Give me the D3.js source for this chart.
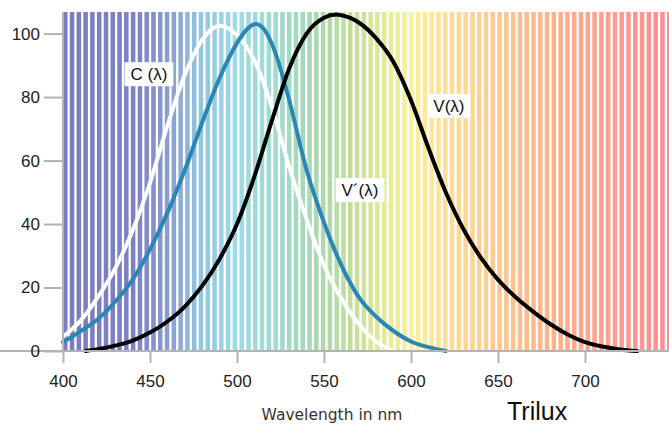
<!DOCTYPE html>
<html lang='en'>
<head>
<meta charset='utf8'>
<title>Spectral sensitivity</title>
<script type="text/javascript" src="https://cdn.jsdelivr.net/npm/d3@7/dist/d3.min.js"></script>
<style>
    body { margin: 0; background: #fff; }
    svg { display: block; }
    .tick text { font-family: 'Liberation Sans', Arial, sans-serif; font-size: 17px; fill: #222; }
    .lbl { font-family: 'Liberation Sans', Arial, sans-serif; font-size: 17px; fill: #111; }
</style>
</head>
<body>
<svg id='chart' width='669' height='426'></svg>
<script type="text/javascript">
    // curve readings: wavelength (nm) and relative sensitivity (%)
    var vNm   = [413, 420, 430, 440, 450, 460, 470, 480, 490, 500, 510, 520, 530, 540, 550, 557, 560, 570, 580, 590, 600, 610, 620, 630, 640, 650, 660, 670, 680, 690, 700, 710, 720, 730];
    var vVal  = [0, 0.6, 1.7, 3.3, 5.8, 9.3, 14, 20.5, 29, 40, 55, 72.5, 89, 100, 105, 106, 105.8, 103.5, 98.5, 91, 79, 64, 50, 38.5, 29.5, 22.5, 17, 12.5, 8.5, 5.2, 2.8, 1.4, 0.5, 0];

    var vsNm  = [400, 410, 420, 430, 440, 450, 460, 470, 480, 490, 500, 506, 511, 516, 522, 530, 540, 550, 560, 570, 580, 590, 600, 610, 620];
    var vsVal = [2.8, 6.2, 10, 15.5, 22.5, 32, 43.5, 57, 72, 86, 97, 101.5, 103, 101, 94, 79, 57, 40.5, 27, 17, 10.8, 6.3, 3, 1.2, 0];

    var cNm   = [400, 410, 420, 430, 440, 450, 460, 470, 480, 490, 500, 510, 520, 530, 540, 550, 560, 570, 580, 590];
    var cVal  = [4.5, 9.5, 17, 26, 38, 53, 71, 87, 98, 102.5, 99.5, 91.5, 77, 58, 41.5, 27, 16.5, 8.5, 3, 0];

    var xTicks = [400, 450, 500, 550, 600, 650, 700];
    var yTicks = [0, 20, 40, 60, 80, 100];

    var labelText = ['C (λ)', 'V´(λ)', 'V(λ)'];
    var labelNm   = [449.4, 570.7, 621.8];
    var labelVal  = [87.2, 50.7, 77.2];

    // background spectrum
    var stopNm    = [400, 440, 462, 478, 500, 522, 545, 565, 582, 600, 625, 650, 680, 710, 750];
    var stopColor = ['#7a7dbf', '#7d80c2', '#8c9fd1', '#91c5df', '#9ddbe4', '#a0dbd0', '#a9d8b1', '#c2de9f', '#e0e898', '#f9f19c', '#fedb96', '#ffc78f', '#ffb28b', '#ffa08e', '#ff8c91'];

    var svg = d3.select('#chart');
    var x = d3.scaleLinear().domain([400, 750]).range([63, 672]);
    var y = d3.scaleLinear().domain([0, 106.8]).range([351, 12]);
    var spectrum = d3.scaleLinear().domain(stopNm).range(stopColor);

    svg.append('g')
        .selectAll('rect')
        .data(d3.range(400, 750, 3.9))
        .enter().append('rect')
        .attr('x', function(d) { return x(d); })
        .attr('y', y.range()[1])
        .attr('width', x(402.6) - x(400))
        .attr('height', y(0) - y.range()[1])
        .attr('fill', function(d) { return spectrum(d + 1.3); });

    var line = d3.line()
        .x(function(d) { return x(d[0]); })
        .y(function(d) { return y(d[1]); })
        .curve(d3.curveMonotoneX);

    var series = [
        { nm: cNm, val: cVal, color: '#ffffff' },
        { nm: vsNm, val: vsVal, color: '#2a86b5' },
        { nm: vNm, val: vVal, color: '#000000' }
    ];
    series.forEach(function(s) {
        svg.append('path')
            .datum(d3.zip(s.nm, s.val))
            .attr('d', line)
            .attr('fill', 'none')
            .attr('stroke', s.color)
            .attr('stroke-width', 4)
            .attr('stroke-linecap', 'round');
    });

    var xAxis = svg.append('g')
        .attr('transform', 'translate(0,' + y(0) + ')')
        .call(d3.axisBottom(x).tickValues(xTicks).tickSize(12).tickPadding(12));
    var yAxis = svg.append('g')
        .attr('transform', 'translate(' + x(400) + ',0)')
        .call(d3.axisLeft(y).tickValues(yTicks).tickSize(19).tickPadding(4));
    [xAxis, yAxis].forEach(function(a) {
        a.select('.domain').attr('stroke', '#b3b3b3').attr('stroke-width', 2);
        a.selectAll('.tick line').attr('stroke', '#b3b3b3').attr('stroke-width', 2);
    });
    xAxis.select('.domain').attr('d', 'M0,0H669');
    yAxis.select('.domain').attr('d', 'M0,' + y.range()[1] + 'V' + y(0));

    // curve labels on white boxes
    labelText.forEach(function(t, i) {
        var g = svg.append('g')
            .attr('transform', 'translate(' + x(labelNm[i]) + ',' + y(labelVal[i]) + ')');
        var txt = g.append('text')
            .attr('class', 'lbl')
            .attr('text-anchor', 'middle')
            .attr('dy', '0.36em')
            .text(t);
        var bb = txt.node().getBBox();
        g.insert('rect', 'text')
            .attr('x', bb.x - 6)
            .attr('y', -12)
            .attr('width', bb.width + 12)
            .attr('height', 24)
            .attr('fill', '#fff');
    });

    svg.append('text')
        .attr('x', 332)
        .attr('y', 420)
        .attr('text-anchor', 'middle')
        .style('font-family', "'DejaVu Sans', sans-serif")
        .style('font-size', '15.5px')
        .style('fill', '#333')
        .text('Wavelength in nm');

    svg.append('text')
        .attr('x', 507)
        .attr('y', 420)
        .style('font-family', "'Liberation Sans', Arial, sans-serif")
        .style('font-size', '25px')
        .style('fill', '#111')
        .text('Trilux');
</script>
</body>
</html>
